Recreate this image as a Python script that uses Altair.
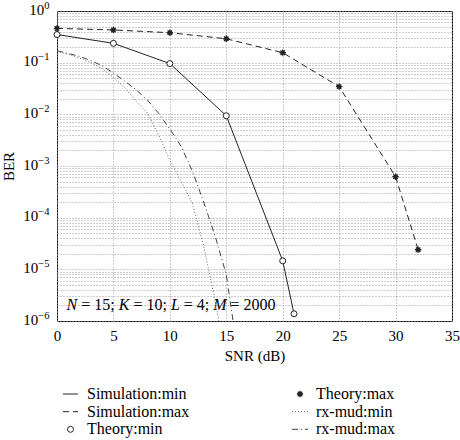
import altair as alt
import pandas as pd

# ---- data -------------------------------------------------------------
snr_sim_min = [0, 5, 10, 15, 20, 21]
ber_sim_min = [0.35, 0.237, 0.096, 0.0094, 1.46e-5, 1.38e-6]

snr_sim_max = [0, 5, 10, 15, 20, 25, 30, 32]
ber_sim_max = [0.46, 0.43, 0.38, 0.29, 0.156, 0.0344, 6.2e-4, 2.4e-5]

snr_theory_min = [0, 5, 10, 15, 20, 21]
ber_theory_min = [0.35, 0.237, 0.096, 0.0094, 1.46e-5, 1.38e-6]

snr_theory_max = [0, 5, 10, 15, 20, 25, 30, 32]
ber_theory_max = [0.46, 0.43, 0.38, 0.29, 0.156, 0.0344, 6.2e-4, 2.4e-5]

snr_rx_min = [0, 1, 2, 3, 4, 5, 6, 7, 8, 9, 10, 11, 12, 13, 14, 14.35]
ber_rx_min = [0.166, 0.145, 0.123, 0.1, 0.076, 0.052, 0.033, 0.018, 0.0107,
              0.004, 0.0013, 5.0e-4, 1.9e-4, 2.8e-5, 2.5e-6, 1.0e-6]

snr_rx_max = [0, 1, 2, 3, 4, 5, 6, 7, 8, 9, 10, 11, 12, 13, 14, 15, 15.6]
ber_rx_max = [0.17, 0.151, 0.132, 0.11, 0.087, 0.063, 0.044, 0.030, 0.019,
              0.0105, 0.0052, 0.0024, 7.9e-4, 2.0e-4, 4.5e-5, 7.9e-6, 1.0e-6]

x_ticks = [0, 5, 10, 15, 20, 25, 30, 35]
y_exponents = [0, -1, -2, -3, -4, -5, -6]
y_exp_text = ["0", "−1", "−2", "−3", "−4", "−5", "−6"]

legend_labels = ["Simulation:min", "Simulation:max", "Theory:min",
                 "Theory:max", "rx-mud:min", "rx-mud:max"]

# ---- layout / style ---------------------------------------------------
W, H = 395, 310
FONT = "Liberation Serif"
INK = "#222222"
GRID = "#9a9a9a"
TICK_SIZE = 15
EXP_SIZE = 10.5

x_scale = alt.Scale(domain=[0, 35], nice=False, zero=False)
y_scale = alt.Scale(type="log", domain=[1e-6, 1], nice=False)

# grid lines at every decade and every intermediate 2..9 value
y_values = [m * 10.0 ** k for k in range(-6, 0) for m in range(1, 10)] + [1.0]

x_axis = alt.Axis(values=x_ticks, grid=True, ticks=False, domain=False,
                  title="SNR (dB)", labelPadding=7, titlePadding=5,
                  labelFlush=False)
y_axis = alt.Axis(values=y_values, grid=True, ticks=False, domain=False,
                  labels=False, title="BER", titlePadding=41)


def series(xs, ys):
    return pd.DataFrame({"snr": xs, "ber": ys})


def enc():
    return dict(x=alt.X("snr:Q", scale=x_scale, axis=x_axis),
                y=alt.Y("ber:Q", scale=y_scale, axis=y_axis))


sim_min = alt.Chart(series(snr_sim_min, ber_sim_min)).mark_line(
    color=INK, strokeWidth=1, clip=True).encode(**enc())
sim_max = alt.Chart(series(snr_sim_max, ber_sim_max)).mark_line(
    color=INK, strokeWidth=1, strokeDash=[6, 4], clip=True).encode(**enc())
rx_min = alt.Chart(series(snr_rx_min, ber_rx_min)).mark_line(
    color="#666666", strokeWidth=1, strokeDash=[1, 2], clip=True).encode(**enc())
rx_max = alt.Chart(series(snr_rx_max, ber_rx_max)).mark_line(
    color="#444444", strokeWidth=1, strokeDash=[6, 3, 1, 3], clip=True).encode(**enc())

theory_min = alt.Chart(series(snr_theory_min, ber_theory_min)).mark_point(
    shape="circle", size=36, filled=True, fill="white", stroke=INK,
    strokeWidth=1, opacity=1).encode(**enc())

ASTERISK = "M-1,0L1,0M0,-1L0,1M-0.7,-0.7L0.7,0.7M-0.7,0.7L0.7,-0.7"
theory_max = alt.Chart(series(snr_theory_max, ber_theory_max)).mark_point(
    shape=ASTERISK, size=40, filled=False, stroke=INK, strokeWidth=1.4,
    opacity=1).encode(**enc())

# ---- y tick labels as 10 with a raised exponent -----------------------
LABEL_RIGHT = -7.5  # right edge of each label, left of the axis
exp_w = []
for t in y_exp_text:
    w = sum(0.564 if c == "−" else 0.5 for c in t) * EXP_SIZE
    exp_w.append(w)
ylab_df = pd.DataFrame({
    "ber": [10.0 ** e for e in y_exponents],
    "exp": y_exp_text,
    "ex": [LABEL_RIGHT] * len(y_exponents),
    "bx": [LABEL_RIGHT - w for w in exp_w],
    "base": ["10"] * len(y_exponents),
})
ylab_base = alt.Chart(ylab_df).mark_text(
    align="right", baseline="middle", font=FONT, fontSize=TICK_SIZE,
    dy=-1.5, color="black").encode(
    x=alt.X("bx:Q", scale=None),
    y=alt.Y("ber:Q", scale=y_scale, axis=y_axis), text="base:N")
ylab_exp = alt.Chart(ylab_df).mark_text(
    align="right", baseline="middle", font=FONT, fontSize=EXP_SIZE,
    dy=-5.5, color="black").encode(
    x=alt.X("ex:Q", scale=None),
    y=alt.Y("ber:Q", scale=y_scale, axis=y_axis), text="exp:N")

# ---- parameter annotation (italic symbols, upright values) ------------
ANN_SIZE = 16
ann_pieces = [("N", True), ("= 15;", False), ("K", True), ("= 10;", False),
              ("L", True), ("= 4;", False), ("M", True), ("= 2000", False)]
# approximate advance widths (em) for the serif face
adv = {" ": 0.25, "=": 0.564, ";": 0.278, "N": 0.667, "K": 0.667,
       "L": 0.556, "M": 0.833}
for d in "0123456789":
    adv[d] = 0.5

px_per_db = W / 35.0
ann_x0, ann_y = 0.85, 1.65e-6
rows = []
offset = 0.0
for txt, ital in ann_pieces:
    rows.append({"snr": ann_x0 + offset / px_per_db, "ber": ann_y,
                 "txt": txt, "italic": ital})
    w = sum(adv.get(c, 0.5) for c in txt) * ANN_SIZE
    offset += w + 0.25 * ANN_SIZE
ann_df = pd.DataFrame(rows)

ann_italic = alt.Chart(ann_df[ann_df.italic]).mark_text(
    align="left", baseline="alphabetic", font=FONT, fontSize=ANN_SIZE,
    fontStyle="italic", color="black").encode(**enc(), text="txt:N")
ann_upright = alt.Chart(ann_df[~ann_df.italic]).mark_text(
    align="left", baseline="alphabetic", font=FONT, fontSize=ANN_SIZE,
    color="black").encode(**enc(), text="txt:N")

# ---- legend below the axes (two columns of three entries) -------------
row_y = [383, 400.7, 418.3]
left_sym = (6, 21)
left_txt = 30
right_sym = (235, 251)
right_txt = 259

leg_text_df = pd.DataFrame({
    "label": legend_labels,
    "lx": [left_txt] * 3 + [right_txt] * 3,
    "ly": row_y + row_y,
})
legend_text = alt.Chart(leg_text_df).mark_text(
    align="left", baseline="middle", font=FONT, fontSize=16,
    color="black").encode(
    x=alt.X("lx:Q", scale=None), y=alt.Y("ly:Q", scale=None), text="label:N")


def legend_rule(x0, x1, y, dash, color):
    df = pd.DataFrame({"a": [x0], "b": [x1], "y": [y]})
    kw = dict(color=color, strokeWidth=1)
    if dash:
        kw["strokeDash"] = dash
    return alt.Chart(df).mark_rule(**kw).encode(
        x=alt.X("a:Q", scale=None), x2="b:Q", y=alt.Y("y:Q", scale=None))


def legend_point(x, y, **kw):
    df = pd.DataFrame({"x": [x], "y": [y]})
    return alt.Chart(df).mark_point(opacity=1, **kw).encode(
        x=alt.X("x:Q", scale=None), y=alt.Y("y:Q", scale=None))


leg_layers = [
    legend_rule(*left_sym, row_y[0], None, INK),
    legend_rule(*left_sym, row_y[1], [6, 4], INK),
    legend_point((left_sym[0] + left_sym[1]) / 2, row_y[2], shape="circle",
                 size=36, filled=True, fill="white", stroke=INK, strokeWidth=1),
    legend_point((right_sym[0] + right_sym[1]) / 2, row_y[0], shape=ASTERISK,
                 size=40, filled=False, stroke=INK, strokeWidth=1.4),
    legend_rule(*right_sym, row_y[1], [1, 2], "#666666"),
    legend_rule(*right_sym, row_y[2], [6, 3, 1, 3], "#444444"),
    legend_text,
]

chart = alt.layer(
    sim_min, sim_max, rx_min, rx_max, theory_min, theory_max,
    ylab_base, ylab_exp, ann_italic, ann_upright, *leg_layers
).properties(
    width=W, height=H,
    padding={"left": 57, "top": 11, "right": 8, "bottom": 119},
    autosize=alt.AutoSizeParams(type="none"),
    background="white",
).configure_view(
    stroke="black", strokeWidth=1
).configure_axis(
    labelFont=FONT, titleFont=FONT, labelFontSize=TICK_SIZE, titleFontSize=15,
    labelColor="black", titleColor="black", titleFontWeight="normal",
    gridColor=GRID, gridDash=[1, 2], gridWidth=1, gridOpacity=1,
)

chart.save("out.html", embed_options={"renderer": "svg", "actions": False})
